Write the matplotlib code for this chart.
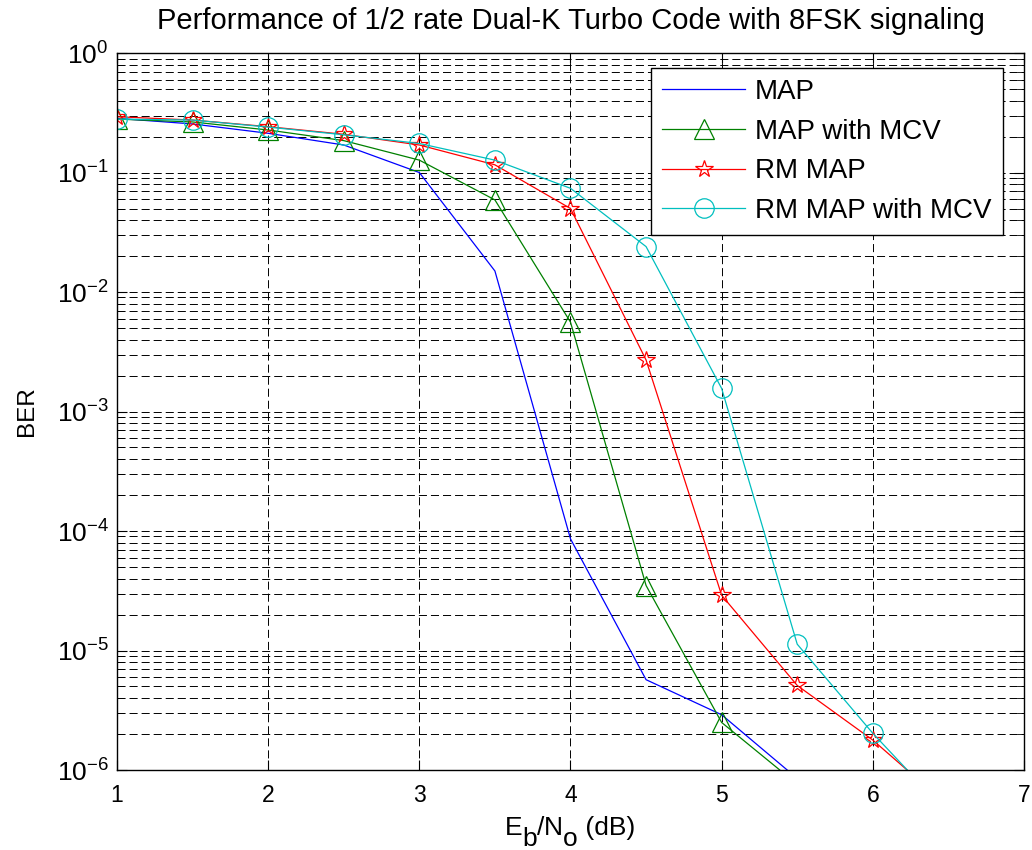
"""
1/2 rate Dual-K Turbo Code, 8FSK — BER vs Eb/No
MAP / MAP with MCV / RM MAP / RM MAP with MCV
"""
import numpy as np
import matplotlib
matplotlib.use('Agg')
import matplotlib.pyplot as plt

plt.rcParams['font.family'] = ['Liberation Sans', 'DejaVu Sans']
plt.rcParams['mathtext.fontset'] = 'custom'
plt.rcParams['mathtext.rm'] = 'Liberation Sans'
plt.rcParams['mathtext.it'] = 'Liberation Sans'

# ============================================================
# 数据
# ============================================================
ebno = [1.0, 1.5, 2.0, 2.5, 3.0, 3.5, 4.0, 4.5, 5.0, 5.5, 6.0, 6.5]

ber_map = [0.284, 0.255, 0.213, 0.170, 0.100, 0.0150, 8.6e-5, 5.7e-6, 2.9e-6, 8.5e-7]
ber_map_mcv = [0.280, 0.265, 0.227, 0.185, 0.127, 0.059, 5.6e-3, 3.5e-5, 2.5e-6, 7.6e-7]
ber_rm_map = [0.293, 0.275, 0.242, 0.209, 0.170, 0.116, 0.050, 2.7e-3, 2.9e-5, 5.1e-6, 1.78e-6, 5.0e-7]
ber_rm_map_mcv = [0.280, 0.275, 0.240, 0.207, 0.175, 0.127, 0.0738, 0.0240, 1.56e-3, 1.13e-5, 2.03e-6, 4.3e-7]

x_ticks = [1, 2, 3, 4, 5, 6, 7]

W, H = 1032, 850

# ============================================================
# 绘图
# ============================================================
fig = plt.figure(figsize=(W / 100, H / 100), dpi=100)
ax = fig.add_axes([0.1134, 0.0941, 0.8788, 0.8435])

lw = 0.9
ax.semilogy(ebno[:len(ber_map)], ber_map, '-', color=(0, 0, 1), lw=lw, label='MAP')
ax.semilogy(ebno[:len(ber_map_mcv)], ber_map_mcv, '-^', color=(0, 0.5, 0), lw=lw,
            ms=15, mfc='none', mew=lw, label='MAP with MCV')
ax.semilogy(ebno, ber_rm_map, '-*', color=(1, 0, 0), lw=lw,
            ms=13, mfc='none', mew=lw, label='RM MAP')
ax.semilogy(ebno, ber_rm_map_mcv, '-o', color=(0, 0.75, 0.75), lw=lw,
            ms=14, mfc='none', mew=lw, label='RM MAP with MCV')

ax.set_xlim(1, 7)
ax.set_ylim(1e-6, 1)
ax.set_xticks(x_ticks)

# MATLAB 风格网格: 虚线, y 轴含次网格
dash = (0, (8.3, 4.1))
ax.grid(True, which='major', axis='both', color='k', linestyle=dash, lw=0.7)
ax.grid(True, which='minor', axis='y', color='k', linestyle=dash, lw=0.7)
ax.tick_params(which='both', direction='in', top=True, right=True)
ax.tick_params(axis='x', labelsize=16.5, pad=10)
ax.tick_params(axis='y', labelsize=19, pad=6)
ax.tick_params(which='major', length=7)
ax.tick_params(which='minor', length=5)
for s in ax.spines.values():
    s.set_linewidth(1.0)

ax.set_title('Performance of 1/2 rate Dual-K Turbo Code with 8FSK signaling',
             fontsize=21, pad=17)
ax.set_ylabel('BER', fontsize=17.5)
ax.yaxis.set_label_coords(-0.087, 0.5)

leg = ax.legend(loc='upper right', bbox_to_anchor=(1003 / W, 1 - 67.7 / H),
                bbox_transform=fig.transFigure, borderaxespad=0,
                fontsize=20, fancybox=False, edgecolor='k', framealpha=1,
                handlelength=3.0, handletextpad=0.35, labelspacing=0.49,
                borderpad=0.41)
leg.get_frame().set_linewidth(1.0)

# x 轴标签: MATLAB 下标与正文同字号, 只是下移
renderer = fig.canvas.get_renderer()
pieces = [('E', 0), ('b', 1), ('/', 0), ('N', 0), ('o', 1), (' (dB)', 0)]
texts, widths = [], []
for s, sub in pieces:
    t = fig.text(0, 0, s, fontsize=19, ha='left', va='baseline')
    texts.append(t)
    widths.append(t.get_window_extent(renderer).width)
x_px = 570 - sum(widths) / 2
for t, w, (s, sub) in zip(texts, widths, pieces):
    t.set_position((x_px / W, 1 - (835 + sub * 11.5) / H))
    x_px += w

plt.savefig('out.png', dpi=100)
plt.close()
